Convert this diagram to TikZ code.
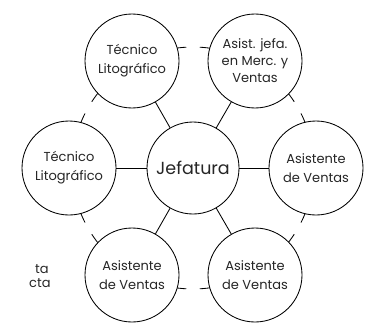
\documentclass[tikz,border=0pt]{standalone}
\usepackage{fontspec}
\setmainfont{Poppins}
\begin{document}
\begin{tikzpicture}[x=1pt,y=1pt,line width=0.85pt,
  outer/.style={circle,draw=black,fill=white,minimum size=94pt,inner sep=0pt,align=center,font=\fontsize{13}{19}\selectfont,text=black!85},
  hub/.style={circle,draw=black,fill=white,minimum size=92pt,inner sep=0pt,font=\fontsize{17.5}{20}\selectfont,text=black!85},
  spoke/.style={draw=black},
  stub/.style={draw=black},
  side/.style={anchor=base east,font=\fontsize{13}{15}\selectfont,text=black!85,inner sep=0pt}]
\useasboundingbox (0,0) rectangle (369,322);
\coordinate (c) at (193,154);
% short arc stubs of the cycle
\foreach \a in {0,60,120,180,240,300}{
  \draw[stub] ([shift={(\a-26.8:121)}]c) arc[start angle=\a-26.8,end angle=\a+26.8,radius=121];
}
\node[hub] (hub) at (c) {Jefatura};
\node[outer] (l) at (69,154) {Técnico\\Litográfico};
\node[outer] (r) at (316,154) {Asistente\\de Ventas};
\node[outer] (tl) at (132,261) {Técnico\\Litográfico};
\node[outer,font=\fontsize{13}{17}\selectfont] (tr) at (255,261) {Asist. jefa.\\en Merc. y\\Ventas};
\node[outer] (bl) at (132,47) {Asistente\\de Ventas};
\node[outer] (br) at (255,47) {Asistente\\de Ventas};
\foreach \n in {l,r,tl,tr,bl,br}{ \draw[spoke] (hub) -- (\n); }
\node[side] (t1) at (49,49) {ta};
\node[side] (t2) at (51,35) {cta};
\end{tikzpicture}
\end{document}
